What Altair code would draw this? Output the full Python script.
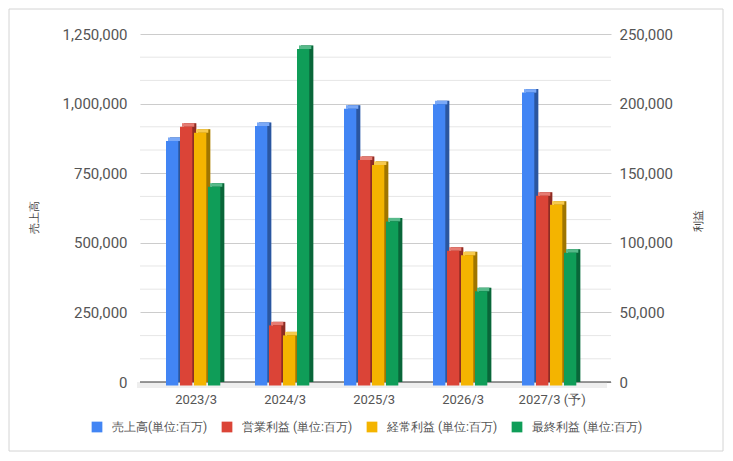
import altair as alt
import pandas as pd

# ---- data ----
categories = ["2023/3", "2024/3", "2025/3", "2026/3", "2027/3 (予)"]
series_names = ["売上高(単位:百万)", "営業利益 (単位:百万)", "経常利益 (単位:百万)", "最終利益 (単位:百万)"]
sales = [878000, 932000, 994000, 1010000, 1052000]
operating_profit = [185900, 43200, 162000, 96800, 136300]
ordinary_profit = [181600, 36000, 158400, 93500, 129900]
net_profit = [142800, 241700, 117900, 67700, 95400]

left_ticks = [0, 250000, 500000, 750000, 1000000, 1250000]
right_ticks = [0, 50000, 100000, 150000, 200000, 250000]
minor_grid = [83333, 166667, 333333, 416667, 583333, 666667, 833333, 916667, 1083333, 1166667]

colors = ["#4285F4", "#DB4437", "#F4B400", "#0F9D58"]

FONT = "Roboto"
W, H = 471, 348
BAR_W = 12.3

rows = []
for i, (s, vals) in enumerate(zip(series_names, [sales, operating_profit, ordinary_profit, net_profit])):
    for c, v in zip(categories, vals):
        rows.append({"category": c, "series": s, "sidx": i, "value": v})
df = pd.DataFrame(rows)
sales_df = df[df["sidx"] == 0]
profit_df = df[df["sidx"] != 0]

# sub-slots inside each series slot: 0 = front face, 1 = top face, 2 = side/back face
slot_keys = [f"{i}|{k}" for i in range(len(series_names)) for k in range(7)]

x_enc = alt.X(
    "category:N", sort=categories,
    scale=alt.Scale(domain=categories, paddingInner=0.3708, paddingOuter=0.3314, align=0.528),
    axis=alt.Axis(title=None, labelAngle=0, ticks=False, domain=False, grid=False,
                  labelPadding=11, labelFontSize=13, labelColor="#555555", labelFont=FONT,
                  labelOffset=-3),
)
xoff_enc = alt.XOffset("key:N", scale=alt.Scale(domain=slot_keys, paddingInner=0, paddingOuter=0))

color_enc = alt.Color(
    "series:N", sort=series_names,
    scale=alt.Scale(domain=series_names, range=colors),
    legend=alt.Legend(
        title=None, orient="none", direction="horizontal", legendX=-49, legendY=387,
        symbolType="square", symbolSize=115, symbolStrokeWidth=0, symbolOpacity=1,
        labelFontSize=12, labelColor="#555555", labelFont=FONT,
        labelOffset=9, columnPadding=13,
    ),
)

left_scale = alt.Scale(domain=[0, 1250000], nice=False, zero=True)
right_scale = alt.Scale(domain=[0, 250000], nice=False, zero=True)

left_axis = alt.Axis(values=left_ticks, format=",.0f", title="売上高", ticks=False,
                     domain=False, grid=True, gridColor="#cccccc", labelFontSize=15,
                     labelColor="#555555", labelFont=FONT, labelPadding=13, titleFontSize=11,
                     titleColor="#444444", titleFontWeight="normal", titleFont=FONT,
                     titlePadding=23, titleAngle=270, titleY=183)
right_axis = alt.Axis(values=right_ticks, format=",.0f", title="利益", orient="right",
                      ticks=False, domain=False, grid=False, labelFontSize=15,
                      labelColor="#555555", labelFont=FONT, labelPadding=8, titleFontSize=11,
                      titleColor="#444444", titleFontWeight="normal", titleFont=FONT,
                      titlePadding=31, titleAngle=270, titleY=186)

y_left = alt.Y("value:Q", scale=left_scale, axis=left_axis)
y_right = alt.Y("value:Q", scale=right_scale, axis=right_axis)


def bar_layers(data, y_enc):
    dark = alt.Chart(data).transform_calculate(key="datum.sidx + '|2'").mark_bar(width=BAR_W).encode(
        x=x_enc, xOffset=xoff_enc, y=y_enc, color=color_enc)
    dark_ov = alt.Chart(data).transform_calculate(key="datum.sidx + '|2'").mark_bar(
        width=BAR_W, color="black", opacity=0.35).encode(x=x_enc, xOffset=xoff_enc, y=y_enc)
    top = alt.Chart(data).transform_calculate(key="datum.sidx + '|1'").mark_bar(
        width=BAR_W, y2Offset=3.5).encode(x=x_enc, xOffset=xoff_enc, y=y_enc, y2="value:Q", color=color_enc)
    top_hl = alt.Chart(data).transform_calculate(key="datum.sidx + '|1'").mark_bar(
        width=BAR_W, y2Offset=3.5, color="white", opacity=0.3).encode(
        x=x_enc, xOffset=xoff_enc, y=y_enc, y2="value:Q")
    front = alt.Chart(data).transform_calculate(key="datum.sidx + '|0'").mark_bar(
        width=BAR_W, yOffset=3.5, y2Offset=3.5).encode(x=x_enc, xOffset=xoff_enc, y=y_enc, color=color_enc)
    return [dark, dark_ov, top, top_hl, front]


one = pd.DataFrame({"a": [0]})
border = alt.Chart(one).mark_rect(fillOpacity=0, stroke="#d4d4d4", strokeWidth=1).encode(
    x=alt.value(-131), x2=alt.value(W + 112), y=alt.value(-25), y2=alt.value(H + 69))
minor = alt.Chart(pd.DataFrame({"value": minor_grid})).mark_rule(color="#e6e6e6").encode(y=y_left)
floor = alt.Chart(pd.DataFrame({"value": [0]})).mark_rect(color="#eeeeee", y2Offset=6).encode(
    x=alt.value(-3), x2=alt.value(W - 4), y=y_left, y2="value:Q")
baseline = alt.Chart(pd.DataFrame({"value": [0]})).mark_rule(color="#333333", strokeWidth=1).encode(y=y_left)

left = alt.layer(border, minor, floor, baseline, *bar_layers(sales_df, y_left))
right = alt.layer(*bar_layers(profit_df, y_right))

chart = (
    alt.layer(left, right)
    .resolve_scale(y="independent")
    .properties(width=W, height=H, autosize=alt.AutoSizeParams(type="none"),
                padding={"left": 132, "top": 26, "right": 113, "bottom": 70})
    .configure(font=FONT)
    .configure_view(strokeWidth=0)
)

chart.save("out.html", embed_options={"renderer": "svg", "actions": False})
